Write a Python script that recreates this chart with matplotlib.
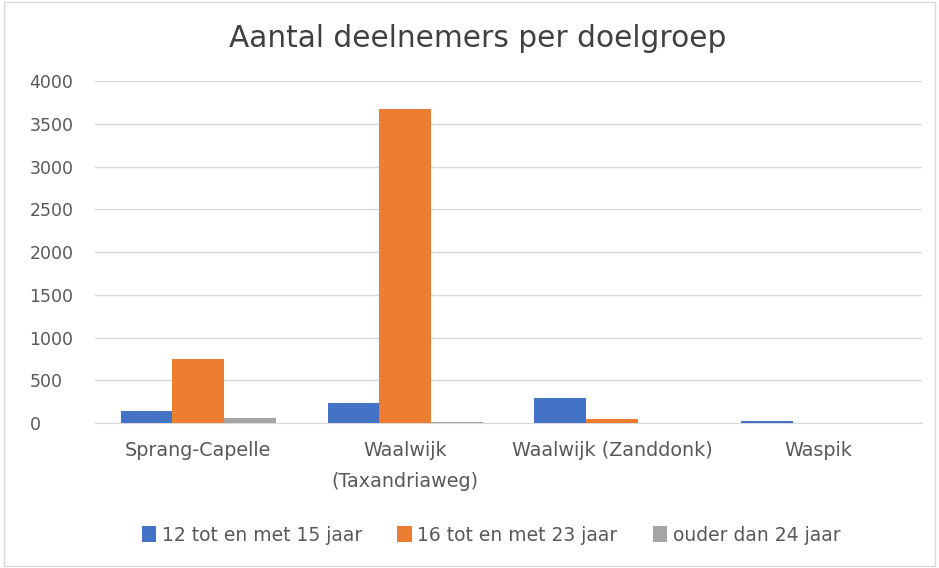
import numpy as np
import matplotlib
matplotlib.use("Agg")
import matplotlib.pyplot as plt

# data
locations = ["Sprang-Capelle", "Waalwijk\n(Taxandriaweg)", "Waalwijk (Zanddonk)", "Waspik"]
series_names = ["12 tot en met 15 jaar", "16 tot en met 23 jaar", "ouder dan 24 jaar"]
age_12_15 = [140, 235, 290, 22]
age_16_23 = [755, 3670, 45, 0]
age_24_plus = [55, 18, 0, 0]
colors = ["#4472C4", "#ED7D31", "#A5A5A5"]

fig = plt.figure(figsize=(9.39, 5.68), dpi=100)
ax = fig.add_axes([0.101, 0.255, 0.881, 0.602])

x = np.arange(len(locations))
width = 0.25
for i, (vals, name) in enumerate(zip([age_12_15, age_16_23, age_24_plus], series_names)):
    ax.bar(x + (i - 1) * width, vals, width, color=colors[i], label=name, zorder=3)

ax.set_ylim(0, 4000)
ax.set_xlim(-0.5, len(locations) - 0.5)
ax.set_yticks(range(0, 4001, 500))
ax.grid(axis="y", color="#D9D9D9", lw=1, zorder=0)
ax.set_xticks(x)
ax.set_xticklabels(locations, fontsize=13.8, color="#595959", linespacing=1.8)
ax.tick_params(axis="y", labelsize=12.5, labelcolor="#595959", length=0, pad=47)
for lbl in ax.get_yticklabels():
    lbl.set_horizontalalignment("left")
ax.tick_params(axis="x", length=0, pad=13)
for s in ["top", "right", "left"]:
    ax.spines[s].set_visible(False)
ax.spines["bottom"].set_color("#D9D9D9")

fig.suptitle("Aantal deelnemers per doelgroep", fontsize=21.3, color="#404040",
             x=0.509, y=0.958)

fig.legend(loc="center", bbox_to_anchor=(0.523, 0.058), ncol=3, frameon=False,
           fontsize=13.5, handlelength=0.75, handleheight=0.9, handletextpad=0.3,
           columnspacing=1.9, labelcolor="#595959")

# light border around the chart area
fig.patches.append(plt.Rectangle((0.004, 0.004), 0.992, 0.992, transform=fig.transFigure,
                                 fill=False, edgecolor="#D9D9D9", lw=1))

fig.savefig("out.png", dpi=100)
